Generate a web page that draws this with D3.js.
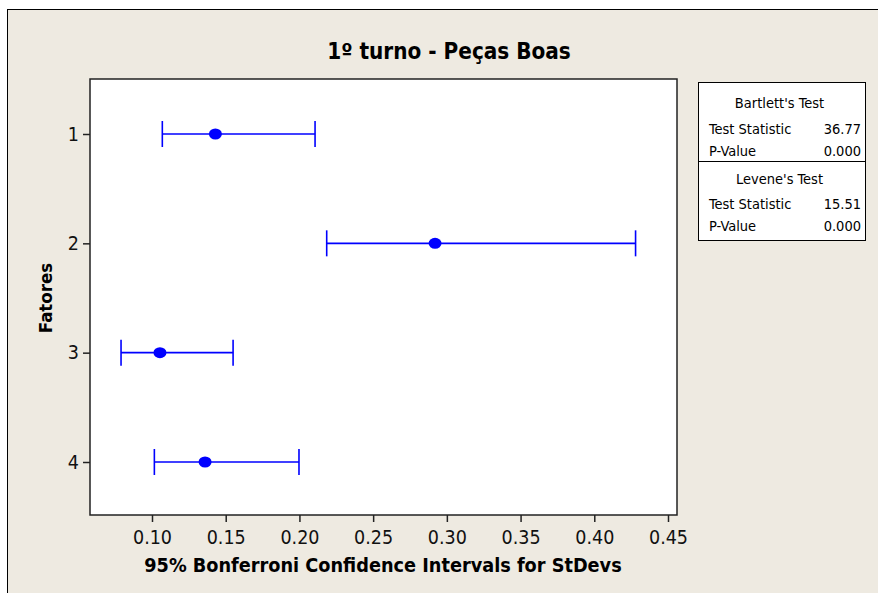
<!DOCTYPE html>
<html>
<head>
<meta charset="utf-8">
<script src="https://cdn.jsdelivr.net/npm/d3@7"></script>
<style>
  html, body { margin: 0; padding: 0; background: #ffffff; }
  svg { display: block; }
  text { font-family: "DejaVu Sans Condensed", "DejaVu Sans", sans-serif; }
</style>
</head>
<body>
<script>
// Factor levels, in plotted order (top to bottom)
const fatores = ["1", "2", "3", "4"];
// 95% Bonferroni intervals for the standard deviations
const lower = [0.107, 0.2185, 0.079, 0.1016];
const stdev = [0.143, 0.292, 0.1054, 0.136];
const upper = [0.2106, 0.428, 0.155, 0.1997];
const xTicks = [0.10, 0.15, 0.20, 0.25, 0.30, 0.35, 0.40, 0.45];

// Test summary table
const bartlettRows = [["Test Statistic", "36.77"], ["P-Value", "0.000"]];
const leveneRows = [["Test Statistic", "15.51"], ["P-Value", "0.000"]];

const W = 878, H = 593;
const plot = { left: 90, top: 79, right: 677, bottom: 515 };
const FONT = '"DejaVu Sans Condensed", "DejaVu Sans", sans-serif';

const svg = d3.select("body").append("svg").attr("width", W).attr("height", H);

// outer frame
svg.append("rect").attr("x", 7.5).attr("y", 9.5).attr("width", W + 10).attr("height", H + 10)
  .attr("fill", "#eeeae1").attr("stroke", "#000").attr("stroke-width", 1);

const x = d3.scaleLinear()
  .domain([0.10 - (152 - plot.left) / 1474.3, 0.45 + (plot.right - 668) / 1474.3])
  .range([plot.left, plot.right]);
const y = d3.scalePoint().domain(fatores).range([134, 462]);

// plot area
svg.append("rect").attr("x", plot.left).attr("y", plot.top)
  .attr("width", plot.right - plot.left).attr("height", plot.bottom - plot.top)
  .attr("fill", "#fff").attr("stroke", "#222").attr("stroke-width", 1.5);

// axes
const xAxis = svg.append("g").attr("transform", `translate(0,${plot.bottom})`)
  .call(d3.axisBottom(x).tickValues(xTicks).tickFormat(d3.format(".2f")).tickSize(7).tickPadding(8));
xAxis.select(".domain").remove();
xAxis.selectAll("line").attr("stroke", "#222").attr("stroke-width", 1.5);
xAxis.selectAll("text").attr("font-size", 19.5).attr("fill", "#111").style("font-family", FONT);

const yAxis = svg.append("g").attr("transform", `translate(${plot.left},0)`)
  .call(d3.axisLeft(y).tickSize(7).tickPadding(4));
yAxis.select(".domain").remove();
yAxis.selectAll("line").attr("stroke", "#222").attr("stroke-width", 1.5);
yAxis.selectAll("text").attr("font-size", 19.5).attr("fill", "#111").style("font-family", FONT);

// intervals
const rows = fatores.map((f, i) => ({ f, lo: lower[i], sd: stdev[i], hi: upper[i] }));
const g = svg.append("g").attr("stroke", "#0000ff").attr("stroke-width", 1.6);
const iv = g.selectAll("g.iv").data(rows).join("g").attr("class", "iv");
iv.append("line").attr("x1", d => x(d.lo)).attr("x2", d => x(d.hi))
  .attr("y1", d => y(d.f)).attr("y2", d => y(d.f));
iv.append("line").attr("x1", d => x(d.lo)).attr("x2", d => x(d.lo))
  .attr("y1", d => y(d.f) - 13).attr("y2", d => y(d.f) + 13);
iv.append("line").attr("x1", d => x(d.hi)).attr("x2", d => x(d.hi))
  .attr("y1", d => y(d.f) - 13).attr("y2", d => y(d.f) + 13);
iv.append("ellipse").attr("cx", d => x(d.sd)).attr("cy", d => y(d.f))
  .attr("rx", 6.5).attr("ry", 5.5).attr("fill", "#0000ff").attr("stroke", "none");

// titles
svg.append("text").attr("x", 449).attr("y", 59).attr("text-anchor", "middle")
  .attr("font-size", 22.3).attr("font-weight", "bold").attr("fill", "#000")
  .text("1º turno - Peças Boas");
svg.append("text").attr("x", 383).attr("y", 572).attr("text-anchor", "middle")
  .attr("font-size", 19.7).attr("font-weight", "bold").attr("fill", "#000")
  .text("95% Bonferroni Confidence Intervals for StDevs");
svg.append("text").attr("transform", "translate(52,298) rotate(-90)").attr("text-anchor", "middle")
  .attr("font-size", 18.5).attr("font-weight", "bold").attr("fill", "#000")
  .text("Fatores");

// test summary table
const tb = { left: 698, right: 865, top: 82, mid: 161, bottom: 240 };
svg.append("rect").attr("x", tb.left + 0.5).attr("y", tb.top + 0.5)
  .attr("width", tb.right - tb.left).attr("height", tb.bottom - tb.top)
  .attr("fill", "#fff").attr("stroke", "#000").attr("stroke-width", 1);
svg.append("line").attr("x1", tb.left).attr("x2", tb.right + 1)
  .attr("y1", tb.mid + 0.5).attr("y2", tb.mid + 0.5).attr("stroke", "#000");

function block(title, rs, ty, ry) {
  svg.append("text").attr("x", (tb.left + tb.right) / 2 - 2).attr("y", ty).attr("text-anchor", "middle")
    .attr("font-size", 14.5).attr("fill", "#000").text(title);
  rs.forEach((r, i) => {
    svg.append("text").attr("x", 709).attr("y", ry[i]).attr("font-size", 14.5).attr("fill", "#000").text(r[0]);
    svg.append("text").attr("x", 861).attr("y", ry[i]).attr("text-anchor", "end")
      .attr("font-size", 14.5).attr("fill", "#000").text(r[1]);
  });
}
block("Bartlett's Test", bartlettRows, 108, [134, 156]);
block("Levene's Test", leveneRows, 184, [209, 231]);
</script>
</body>
</html>
